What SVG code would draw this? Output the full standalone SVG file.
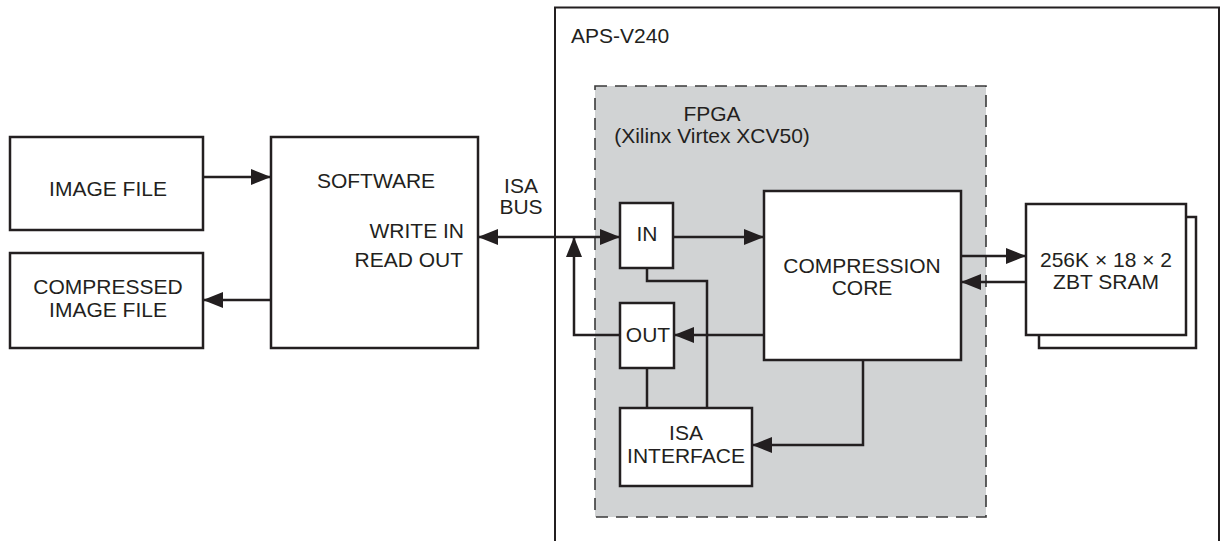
<svg xmlns="http://www.w3.org/2000/svg" width="1221" height="541" viewBox="0 0 1221 541">
<style>
.box{fill:#ffffff;stroke:#231f20;stroke-width:2.5}
.frame{fill:none;stroke:#231f20;stroke-width:2}
.fpga{fill:#d1d3d4;stroke:#3a3a3a;stroke-width:1.6;stroke-dasharray:12 8}
.ln{fill:none;stroke:#231f20;stroke-width:2.5}
text{font-family:"Liberation Sans",Arial,sans-serif;font-size:21px;fill:#231f20}
.m{text-anchor:middle}
.e{text-anchor:end}
</style>
<defs>
<marker id="ah" markerUnits="userSpaceOnUse" markerWidth="20" markerHeight="16" refX="20" refY="8" orient="auto">
<path d="M0,0 L20,8 L0,16 z" fill="#231f20"/>
</marker>
<marker id="ahs" markerUnits="userSpaceOnUse" markerWidth="20" markerHeight="16" refX="20" refY="8" orient="auto-start-reverse">
<path d="M0,0 L20,8 L0,16 z" fill="#231f20"/>
</marker>
</defs>
<rect width="1221" height="541" fill="#ffffff"/>
<g id="aps">
<rect class="frame" x="555" y="7.5" width="664" height="560"/>
<text x="571" y="43">APS-V240</text>
</g>
<g id="fpga">
<rect class="fpga" x="595" y="86" width="391" height="431"/>
<text class="m" x="712" y="121">FPGA</text>
<text class="m" x="712" y="143">(Xilinx Virtex XCV50)</text>
</g>
<g id="image-file">
<rect class="box" x="10" y="137" width="193" height="93"/>
<text class="m" x="108" y="196">IMAGE FILE</text>
</g>
<g id="compressed-image-file">
<rect class="box" x="10" y="253" width="193" height="95"/>
<text class="m" x="108" y="294">COMPRESSED</text>
<text class="m" x="108" y="317">IMAGE FILE</text>
</g>
<g id="software">
<rect class="box" x="271" y="137" width="207" height="211"/>
<text class="m" x="376" y="188">SOFTWARE</text>
<text class="e" x="464" y="238">WRITE IN</text>
<text class="e" x="463" y="267">READ OUT</text>
</g>
<g id="isa-bus">
<text class="m" x="521" y="193">ISA</text>
<text class="m" x="521" y="214">BUS</text>
</g>
<g id="in">
<rect class="box" x="620" y="203" width="53" height="65"/>
<text class="m" x="647" y="241">IN</text>
</g>
<g id="out">
<rect class="box" x="620" y="303" width="54" height="65"/>
<text class="m" x="648" y="342">OUT</text>
</g>
<g id="compression-core">
<rect class="box" x="764" y="191" width="197" height="169"/>
<text class="m" x="862" y="273">COMPRESSION</text>
<text class="m" x="862" y="295">CORE</text>
</g>
<g id="isa-interface">
<rect class="box" x="620" y="408" width="132" height="78"/>
<text class="m" x="686" y="440">ISA</text>
<text class="m" x="686" y="463">INTERFACE</text>
</g>
<g id="sram">
<rect class="box" x="1039" y="217" width="157" height="131"/>
<rect class="box" x="1026" y="204" width="160" height="131"/>
<text class="m" x="1106" y="267">256K × 18 × 2</text>
<text class="m" x="1106" y="289">ZBT SRAM</text>
</g>
<g id="connectors">
<path class="ln" d="M203,177 H271" marker-end="url(#ah)"/>
<path class="ln" d="M271,300 H203" marker-end="url(#ah)"/>
<path class="ln" d="M478,237 H620" marker-start="url(#ahs)" marker-end="url(#ah)"/>
<path class="ln" d="M620,335 H574 V237" marker-end="url(#ah)"/>
<path class="ln" d="M673,237 H764" marker-end="url(#ah)"/>
<path class="ln" d="M647,268 V281 H707 V408"/>
<path class="ln" d="M647,368 V408"/>
<path class="ln" d="M764,335 H674" marker-end="url(#ah)"/>
<path class="ln" d="M863,360 V445 H752" marker-end="url(#ah)"/>
<path class="ln" d="M961,256 H1026" marker-end="url(#ah)"/>
<path class="ln" d="M1026,282 H961" marker-end="url(#ah)"/>
</g>
</svg>
